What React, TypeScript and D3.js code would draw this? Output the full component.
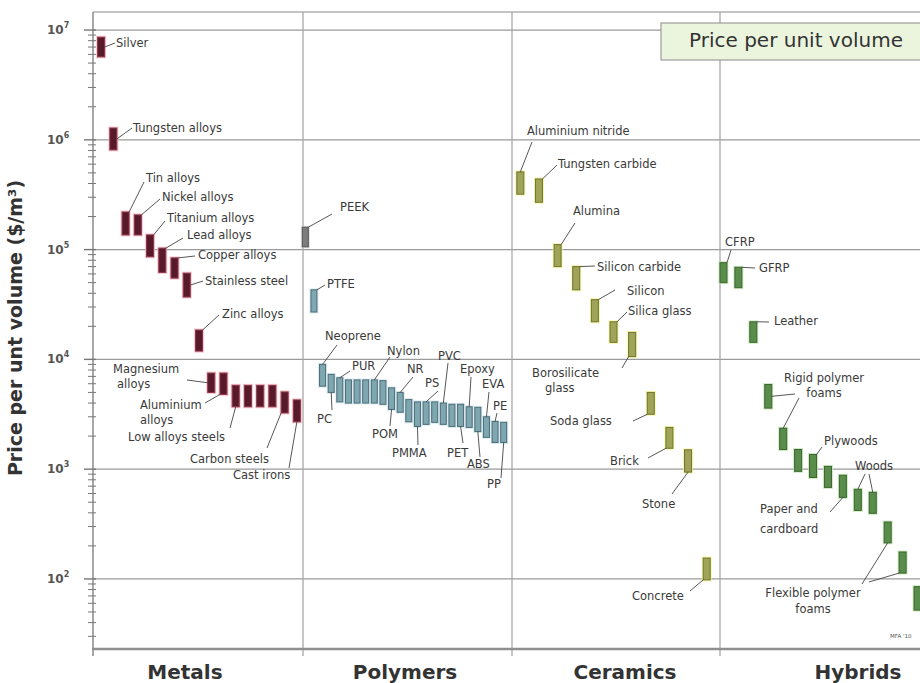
import React from "react";
import * as d3 from "d3";

const W = 920;
const H = 683;

// Exponents of the labelled decades on the price axis
const decadeExponents = [2, 3, 4, 5, 6, 7];

const familyNames = ["Metals", "Polymers", "Ceramics", "Hybrids"];

const metalNames = [
  "Silver", "Tungsten alloys", "Tin alloys", "Nickel alloys", "Titanium alloys",
  "Lead alloys", "Copper alloys", "Stainless steel", "Zinc alloys", "Magnesium alloys",
  "Aluminium alloys", "Low alloy steels", "Medium carbon steel", "High carbon steel",
  "Low carbon steel", "Carbon steels", "Cast irons",
];
const metalLow = [5.7e6, 8.1e5, 1.36e5, 1.36e5, 8.6e4, 6.2e4, 5.5e4, 3.7e4, 1.19e4, 5.0e3, 4.8e3, 3.7e3, 3.7e3, 3.7e3, 3.7e3, 3.25e3, 2.7e3];
const metalHigh = [8.6e6, 1.28e6, 2.2e5, 2.07e5, 1.36e5, 1.03e5, 8.4e4, 6.1e4, 1.85e4, 7.5e3, 7.5e3, 5.8e3, 5.8e3, 5.8e3, 5.8e3, 5.05e3, 4.27e3];

const polymerNames = [
  "PEEK", "PTFE", "Neoprene", "PC", "PUR", "Butyl rubber", "Silicone elastomers",
  "Phenolics", "Nylon", "Polyester", "POM", "NR", "Isoprene", "PMMA", "PS", "Ionomer",
  "PVC", "PBT", "PET", "Epoxy", "ABS", "EVA", "PE", "PP",
];
const polymerLow = [1.06e5, 2.7e4, 5.7e3, 5.0e3, 4.1e3, 4.0e3, 4.0e3, 4.0e3, 4.0e3, 3.9e3, 3.5e3, 3.3e3, 2.7e3, 2.45e3, 2.56e3, 2.67e3, 2.56e3, 2.45e3, 2.45e3, 2.4e3, 2.2e3, 1.95e3, 1.75e3, 1.75e3];
const polymerHigh = [1.6e5, 4.3e4, 9.0e3, 7.3e3, 6.8e3, 6.5e3, 6.5e3, 6.5e3, 6.5e3, 6.4e3, 5.5e3, 5.0e3, 4.3e3, 4.1e3, 4.1e3, 4.1e3, 4.0e3, 3.9e3, 3.9e3, 3.7e3, 3.66e3, 3.0e3, 2.72e3, 2.67e3];

const ceramicNames = [
  "Aluminium nitride", "Tungsten carbide", "Alumina", "Silicon carbide", "Silicon",
  "Silica glass", "Borosilicate glass", "Soda glass", "Brick", "Stone", "Concrete",
];
const ceramicLow = [3.2e5, 2.7e5, 7.0e4, 4.3e4, 2.2e4, 1.43e4, 1.06e4, 3.16e3, 1.55e3, 940, 98];
const ceramicHigh = [5.1e5, 4.4e5, 1.11e5, 7.0e4, 3.5e4, 2.2e4, 1.76e4, 5.0e3, 2.4e3, 1.5e3, 155];

const hybridNames = [
  "CFRP", "GFRP", "Leather", "Rigid polymer foam (HD)", "Rigid polymer foam (MD)",
  "Bamboo", "Plywood", "Cork", "Paper and cardboard", "Softwood", "Hardwood",
  "Flexible polymer foam (VHD)", "Flexible polymer foam (HD)", "Flexible polymer foam (MD)",
];
const hybridLow = [5.0e4, 4.5e4, 1.43e4, 3.6e3, 1.51e3, 955, 840, 682, 553, 421, 396, 213, 113, 52];
const hybridHigh = [7.6e4, 6.9e4, 2.2e4, 5.9e3, 2.36e3, 1.51e3, 1.36e3, 1.06e3, 880, 655, 615, 330, 176, 85];

// ---- layout ----
const plotLeft = 93;
const plotTop = 12;
const plotBottom = 649;
const columnEdges = [93, 303, 512, 720, 929];
const barExtents: [number, number][] = [[95, 303], [301, 508], [511, 716], [716, 925]];
const barWidths = [7, 6, 7, 7];
const familyLabelX = [185, 405, 625, 858];

const palette = [
  { fill: "#561a2a", stroke: "#8c3346", halo: "#f3bcc6" },
  { fill: "#7fa7b1", stroke: "#4b6d77", halo: "#d6e7ec" },
  { fill: "#9fa458", stroke: "#6e7330", halo: "#f6f59c" },
  { fill: "#5a8c4c", stroke: "#3b6630", halo: "#c9e6ba" },
];
const greyPolymer = { fill: "#7d7d7d", stroke: "#555", halo: "#dcdcdc" };

type Lead = { from: [number, number]; bar: string; end: "top" | "bot" | "mid"; side: "l" | "r" | "c" };
type Note = { lines: string[]; x: number; y: number; gap?: number; anchor?: "start" | "middle"; dx?: number[]; leads: Lead[] };

const notes: Note[] = [
  // metals
  { lines: ["Silver"], x: 116, y: 47, leads: [{ from: [115, 43], bar: "Silver", end: "mid", side: "r" }] },
  { lines: ["Tungsten alloys"], x: 133, y: 132, leads: [{ from: [132, 128], bar: "Tungsten alloys", end: "mid", side: "r" }] },
  { lines: ["Tin alloys"], x: 146, y: 182, leads: [{ from: [144, 182], bar: "Tin alloys", end: "top", side: "r" }] },
  { lines: ["Nickel alloys"], x: 162, y: 201, leads: [{ from: [160, 199], bar: "Nickel alloys", end: "top", side: "r" }] },
  { lines: ["Titanium alloys"], x: 167, y: 222, leads: [{ from: [165, 221], bar: "Titanium alloys", end: "top", side: "r" }] },
  { lines: ["Lead alloys"], x: 187, y: 239, leads: [{ from: [183, 238], bar: "Lead alloys", end: "top", side: "r" }] },
  { lines: ["Copper alloys"], x: 198, y: 259, leads: [{ from: [195, 256], bar: "Copper alloys", end: "top", side: "r" }] },
  { lines: ["Stainless steel"], x: 205, y: 285, leads: [{ from: [203, 281], bar: "Stainless steel", end: "mid", side: "r" }] },
  { lines: ["Zinc alloys"], x: 222, y: 318, leads: [{ from: [219, 315], bar: "Zinc alloys", end: "top", side: "r" }] },
  { lines: ["Magnesium", "alloys"], x: 113, y: 373, dx: [0, 4], leads: [{ from: [187, 380], bar: "Magnesium alloys", end: "mid", side: "l" }] },
  { lines: ["Aluminium", "alloys"], x: 140, y: 409, leads: [{ from: [205, 403], bar: "Aluminium alloys", end: "bot", side: "l" }] },
  { lines: ["Low alloys steels"], x: 128, y: 441, leads: [{ from: [230, 428], bar: "Low alloy steels", end: "bot", side: "c" }] },
  { lines: ["Carbon steels"], x: 190, y: 463, leads: [{ from: [267, 448], bar: "Carbon steels", end: "bot", side: "l" }] },
  { lines: ["Cast irons"], x: 233, y: 479, leads: [{ from: [289, 468], bar: "Cast irons", end: "bot", side: "c" }] },
  // polymers
  { lines: ["PEEK"], x: 340, y: 211, leads: [{ from: [332, 214], bar: "PEEK", end: "top", side: "r" }] },
  { lines: ["PTFE"], x: 327, y: 288, leads: [{ from: [325, 285], bar: "PTFE", end: "top", side: "r" }] },
  { lines: ["Neoprene"], x: 325, y: 340, leads: [{ from: [337, 345], bar: "Neoprene", end: "top", side: "c" }] },
  { lines: ["PC"], x: 317, y: 423, leads: [{ from: [332, 410], bar: "PC", end: "bot", side: "c" }] },
  { lines: ["PUR"], x: 352, y: 370, leads: [{ from: [350, 371], bar: "PUR", end: "top", side: "c" }] },
  { lines: ["Nylon"], x: 387, y: 355, leads: [{ from: [390, 357], bar: "Nylon", end: "top", side: "c" }] },
  { lines: ["NR"], x: 407, y: 373, leads: [{ from: [413, 377], bar: "NR", end: "top", side: "c" }] },
  { lines: ["PS"], x: 425, y: 387, leads: [{ from: [438, 391], bar: "PS", end: "top", side: "c" }] },
  { lines: ["PVC"], x: 438, y: 360, leads: [{ from: [448, 363], bar: "PVC", end: "top", side: "c" }] },
  { lines: ["Epoxy"], x: 460, y: 373, leads: [{ from: [471, 377], bar: "Epoxy", end: "top", side: "c" }] },
  { lines: ["EVA"], x: 482, y: 388, leads: [{ from: [489, 392], bar: "EVA", end: "top", side: "c" }] },
  { lines: ["PE"], x: 493, y: 410, leads: [{ from: [497, 413], bar: "PE", end: "top", side: "c" }] },
  { lines: ["POM"], x: 372, y: 438, leads: [{ from: [390, 426], bar: "POM", end: "bot", side: "c" }] },
  { lines: ["PMMA"], x: 392, y: 457, leads: [{ from: [418, 445], bar: "PMMA", end: "bot", side: "c" }] },
  { lines: ["PET"], x: 447, y: 457, leads: [{ from: [463, 443], bar: "PET", end: "bot", side: "c" }] },
  { lines: ["ABS"], x: 467, y: 468, leads: [{ from: [480, 457], bar: "ABS", end: "bot", side: "c" }] },
  { lines: ["PP"], x: 487, y: 488, leads: [{ from: [501, 478], bar: "PP", end: "bot", side: "c" }] },
  // ceramics
  { lines: ["Aluminium nitride"], x: 527, y: 135, leads: [{ from: [532, 142], bar: "Aluminium nitride", end: "top", side: "c" }] },
  { lines: ["Tungsten carbide"], x: 558, y: 168, leads: [{ from: [557, 165], bar: "Tungsten carbide", end: "top", side: "r" }] },
  { lines: ["Alumina"], x: 573, y: 215, leads: [{ from: [575, 223], bar: "Alumina", end: "top", side: "r" }] },
  { lines: ["Silicon carbide"], x: 597, y: 271, leads: [{ from: [595, 266], bar: "Silicon carbide", end: "top", side: "r" }] },
  { lines: ["Silicon"], x: 627, y: 295, leads: [{ from: [615, 290], bar: "Silicon", end: "top", side: "r" }] },
  { lines: ["Silica glass"], x: 628, y: 315, leads: [{ from: [627, 312], bar: "Silica glass", end: "top", side: "r" }] },
  { lines: ["Borosilicate", "glass"], x: 532, y: 377, dx: [0, 13], leads: [{ from: [622, 368], bar: "Borosilicate glass", end: "bot", side: "l" }] },
  { lines: ["Soda glass"], x: 550, y: 425, leads: [{ from: [633, 421], bar: "Soda glass", end: "bot", side: "l" }] },
  { lines: ["Brick"], x: 610, y: 465, leads: [{ from: [648, 458], bar: "Brick", end: "bot", side: "l" }] },
  { lines: ["Stone"], x: 642, y: 508, leads: [{ from: [672, 494], bar: "Stone", end: "bot", side: "c" }] },
  { lines: ["Concrete"], x: 632, y: 600, leads: [{ from: [690, 591], bar: "Concrete", end: "bot", side: "l" }] },
  // hybrids
  { lines: ["CFRP"], x: 725, y: 246, leads: [{ from: [731, 250], bar: "CFRP", end: "top", side: "r" }] },
  { lines: ["GFRP"], x: 759, y: 272, leads: [{ from: [755, 268], bar: "GFRP", end: "top", side: "r" }] },
  { lines: ["Leather"], x: 774, y: 325, leads: [{ from: [769, 322], bar: "Leather", end: "top", side: "r" }] },
  {
    lines: ["Rigid polymer", "foams"], x: 824, y: 382, anchor: "middle",
    leads: [
      { from: [795, 394], bar: "Rigid polymer foam (HD)", end: "mid", side: "r" },
      { from: [799, 398], bar: "Rigid polymer foam (MD)", end: "top", side: "c" },
    ],
  },
  { lines: ["Plywoods"], x: 824, y: 445, leads: [{ from: [822, 447], bar: "Plywood", end: "top", side: "r" }] },
  {
    lines: ["Woods"], x: 855, y: 470,
    leads: [
      { from: [865, 474], bar: "Softwood", end: "top", side: "c" },
      { from: [869, 474], bar: "Hardwood", end: "top", side: "c" },
    ],
  },
  { lines: ["Paper and", "cardboard"], x: 760, y: 513, gap: 20, leads: [{ from: [830, 512], bar: "Paper and cardboard", end: "bot", side: "c" }] },
  {
    lines: ["Flexible polymer", "foams"], x: 813, y: 597, gap: 16, anchor: "middle",
    leads: [
      { from: [862, 584], bar: "Flexible polymer foam (VHD)", end: "bot", side: "c" },
      { from: [869, 582], bar: "Flexible polymer foam (HD)", end: "bot", side: "l" },
    ],
  },
];

const LABEL_FONT = "'DejaVu Sans', Verdana, sans-serif";

export default function App() {
  const y = d3.scaleLog().domain([23, 1.46e7]).range([plotBottom, plotTop]);

  const families = [
    { names: metalNames, low: metalLow, high: metalHigh },
    { names: polymerNames, low: polymerLow, high: polymerHigh },
    { names: ceramicNames, low: ceramicLow, high: ceramicHigh },
    { names: hybridNames, low: hybridLow, high: hybridHigh },
  ];

  const bars = families.flatMap((f, fi) => {
    const xb = d3.scaleBand<string>().domain(f.names).range(barExtents[fi]);
    return f.names.map((name, i) => ({
      name,
      fi,
      cx: (xb(name) as number) + xb.bandwidth() / 2,
      w: barWidths[fi],
      lo: f.low[i],
      hi: f.high[i],
    }));
  });
  const byName = new Map(bars.map((b) => [b.name, b]));

  const [d0, d1] = y.domain();
  const minorTicks: { v: number; major: boolean }[] = [];
  for (let e = 0; e <= 8; e++) {
    for (let m = 1; m <= 9; m++) {
      const v = m * Math.pow(10, e);
      if (v >= d0 && v <= d1) minorTicks.push({ v, major: m === 1 });
    }
  }

  const leadEnd = (l: Lead): [number, number] => {
    const b = byName.get(l.bar)!;
    const yy = l.end === "top" ? y(b.hi) : l.end === "bot" ? y(b.lo) : y(Math.sqrt(b.lo * b.hi));
    const xx = l.side === "r" ? b.cx + b.w / 2 : l.side === "l" ? b.cx - b.w / 2 : b.cx;
    return [xx, yy];
  };

  const styleFor = (b: (typeof bars)[number]) => (b.name === "PEEK" ? greyPolymer : palette[b.fi]);

  return (
    <svg
      width={W}
      height={H}
      viewBox={`0 0 ${W} ${H}`}
      style={{ position: "absolute", left: 0, top: 0, background: "#fff" }}
    >
      <rect width={W} height={H} fill="#fff" />

      {/* decade grid */}
      {decadeExponents.map((e) => (
        <line key={`g${e}`} x1={plotLeft} x2={W} y1={y(Math.pow(10, e))} y2={y(Math.pow(10, e))} stroke="#9a9a9a" strokeWidth={1.2} />
      ))}

      {/* frame and family dividers */}
      <line x1={plotLeft} x2={W} y1={plotTop} y2={plotTop} stroke="#b0b0b0" strokeWidth={1.5} />
      {columnEdges.slice(1, 4).map((x) => (
        <line key={`d${x}`} x1={x} x2={x} y1={plotTop} y2={plotBottom + 7} stroke="#a8a8a8" strokeWidth={1.3} />
      ))}
      <line x1={plotLeft} x2={plotLeft} y1={plotTop} y2={plotBottom + 7} stroke="#8a8a8a" strokeWidth={1.5} />
      <line x1={plotLeft - 1} x2={W} y1={plotBottom} y2={plotBottom} stroke="#8f8f8f" strokeWidth={2.5} />

      {/* price axis ticks */}
      {minorTicks.map((t) => (
        <line
          key={`t${t.v}`}
          x1={t.major ? plotLeft - 9 : plotLeft - 5}
          x2={plotLeft + 3}
          y1={y(t.v)}
          y2={y(t.v)}
          stroke="#777"
          strokeWidth={t.major ? 1.4 : 1}
        />
      ))}
      {decadeExponents.map((e) => (
        <text
          key={`l${e}`}
          x={47}
          y={y(Math.pow(10, e)) + 4}
          fontFamily={LABEL_FONT}
          fontWeight="bold"
          fontSize={12}
          fill="#555"
        >
          10
          <tspan dy={-6} fontSize={8}>
            {e}
          </tspan>
        </text>
      ))}

      <text
        transform={`translate(22,328) rotate(-90)`}
        textAnchor="middle"
        fontFamily={LABEL_FONT}
        fontWeight="bold"
        fontSize={19}
        fill="#333"
      >
        Price per unt volume ($/m³)
      </text>

      {/* family names */}
      {familyNames.map((n, i) => (
        <text key={n} x={familyLabelX[i]} y={679} textAnchor="middle" fontFamily={LABEL_FONT} fontWeight="bold" fontSize={20} fill="#333">
          {n}
        </text>
      ))}

      {/* price-range bars */}
      {bars.map((b) => {
        const s = styleFor(b);
        const top = y(b.hi);
        const h = y(b.lo) - top;
        return (
          <g key={b.name}>
            <rect x={b.cx - b.w / 2 - 1.5} y={top - 1.5} width={b.w + 3} height={h + 3} fill={s.halo} opacity={0.85} />
            <rect x={b.cx - b.w / 2} y={top} width={b.w} height={h} fill={s.fill} stroke={s.stroke} strokeWidth={1} />
          </g>
        );
      })}

      {/* annotations */}
      {notes.map((n, i) => (
        <g key={`n${i}`}>
          {n.leads.map((l, j) => {
            const [x2, y2] = leadEnd(l);
            return <line key={j} x1={l.from[0]} y1={l.from[1]} x2={x2} y2={y2} stroke="#444" strokeWidth={0.9} />;
          })}
          <text fontFamily={LABEL_FONT} fontSize={11.5} fill="#3a3a3a" textAnchor={n.anchor ?? "start"}>
            {n.lines.map((t, k) => (
              <tspan key={k} x={n.x + (n.dx ? n.dx[k] : 0)} y={n.y + k * (n.gap ?? 15)}>
                {t}
              </tspan>
            ))}
          </text>
        </g>
      ))}

      {/* title box */}
      <rect x={661} y={23} width={262} height={37} fill="#ebf5de" stroke="#9c9c9c" strokeWidth={1.2} />
      <text x={796} y={47} textAnchor="middle" fontFamily={LABEL_FONT} fontSize={20} fill="#333">
        Price per unit volume
      </text>

      <text x={890} y={638} fontFamily={LABEL_FONT} fontSize={5.5} fill="#555">
        MFA &apos;10
      </text>
    </svg>
  );
}
